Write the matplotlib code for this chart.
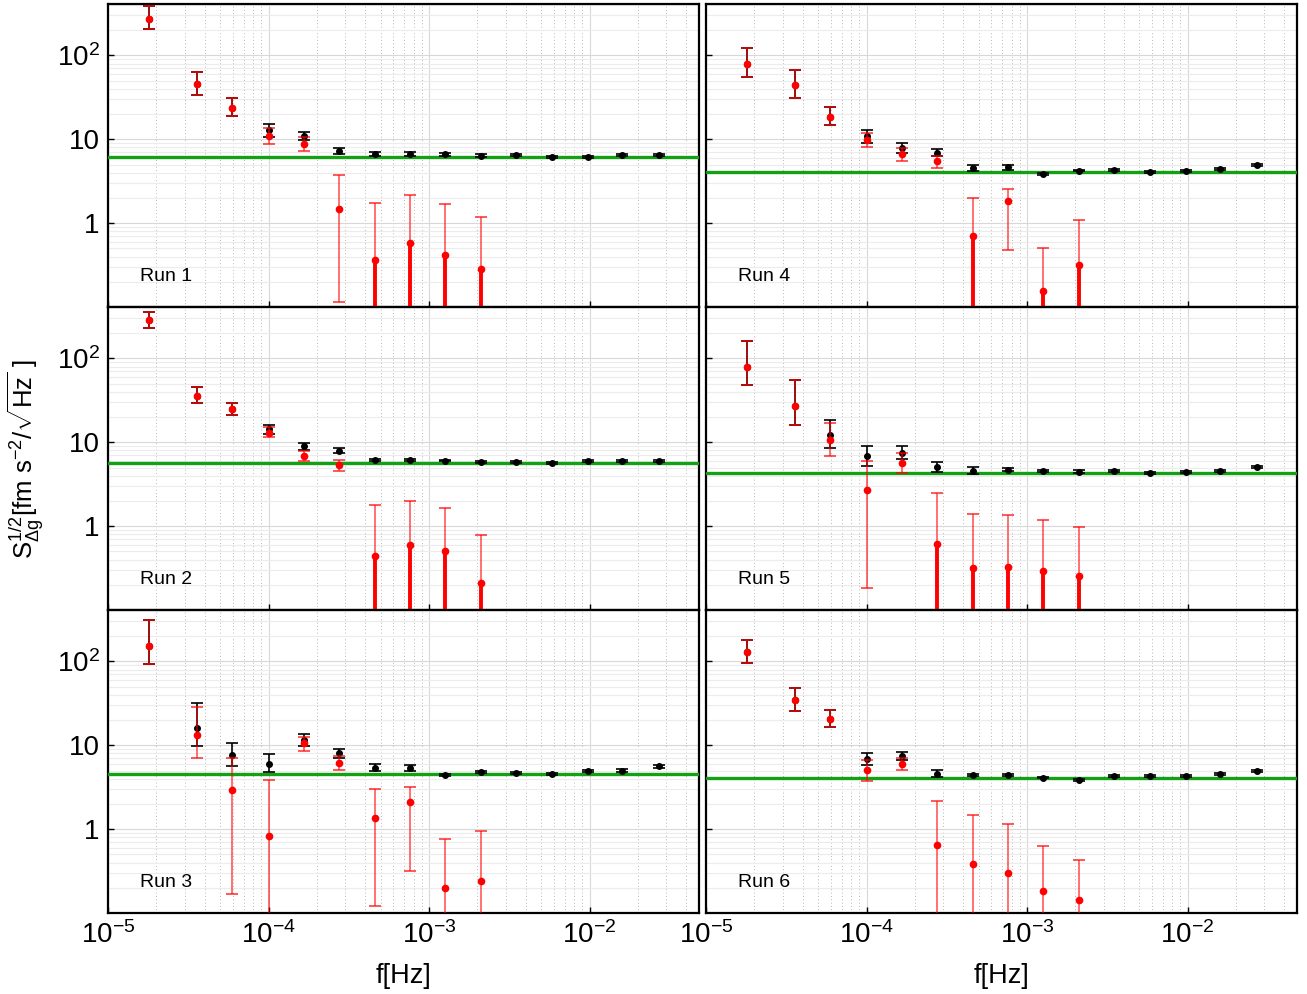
import numpy as np
import matplotlib
matplotlib.use("Agg")
import matplotlib.pyplot as plt
from matplotlib.ticker import FixedLocator, FixedFormatter, LogLocator, NullFormatter

plt.rcParams['font.family'] = ['Liberation Sans', 'DejaVu Sans']
plt.rcParams['mathtext.fontset'] = 'custom'
plt.rcParams['mathtext.rm'] = 'Liberation Sans'
plt.rcParams['mathtext.it'] = 'Liberation Sans:italic'
plt.rcParams['mathtext.bf'] = 'Liberation Sans:bold'
plt.rcParams['mathtext.sf'] = 'Liberation Sans'

# frequency bins (black: all bins, red: first ten)
freq = [1.8e-5, 3.6e-5, 5.9e-5, 1.0e-4, 1.66e-4, 2.76e-4, 4.6e-4, 7.6e-4,
        1.26e-3, 2.1e-3, 3.5e-3, 5.8e-3, 9.8e-3, 1.6e-2, 2.7e-2]
freq_red = freq[:10]

run_names = ["Run 1", "Run 2", "Run 3", "Run 4", "Run 5", "Run 6"]
noise_level = [6.15, 5.73, 4.6, 4.05, 4.31, 4.08]

# black series: value, upper and lower bound
blk1 = [275, 45, 23.8, 12.8, 10.9, 7.2, 6.6, 6.7, 6.6, 6.4, 6.45, 6.2, 6.2, 6.45, 6.45]
blk1_hi = [385, 63, 31, 15.2, 12.3, 7.9, 7.0, 7.0, 6.85, 6.6, 6.65, 6.4, 6.4, 6.65, 6.65]
blk1_lo = [204, 33.4, 18.8, 10.6, 9.7, 6.6, 6.25, 6.4, 6.35, 6.2, 6.25, 6.0, 6.0, 6.25, 6.25]
blk2 = [286, 35.6, 24.7, 14.3, 9.0, 7.9, 6.15, 6.15, 6.05, 5.78, 5.78, 5.6, 5.95, 5.95, 5.95]
blk2_hi = [355, 45, 29.6, 16.1, 9.9, 8.5, 6.4, 6.35, 6.2, 5.95, 5.92, 5.75, 6.1, 6.1, 6.1]
blk2_lo = [232, 29.1, 21, 12.7, 8.1, 7.4, 5.9, 5.95, 5.9, 5.62, 5.64, 5.45, 5.8, 5.8, 5.8]
blk3 = [152, 15.9, 7.6, 6.05, 11.5, 8.0, 5.37, 5.37, 4.4, 4.76, 4.65, 4.5, 4.9, 5.0, 5.6]
blk3_hi = [310, 31.9, 10.7, 7.9, 13.8, 9.0, 5.94, 5.8, 4.55, 4.9, 4.8, 4.62, 5.05, 5.15, 5.8]
blk3_lo = [92, 9.7, 5.73, 4.86, 9.8, 7.1, 4.9, 5.0, 4.27, 4.62, 4.5, 4.38, 4.75, 4.85, 5.4]
blk4 = [79.6, 44, 18.6, 10.8, 7.8, 6.9, 4.55, 4.64, 3.83, 4.24, 4.28, 4.05, 4.16, 4.4, 4.9]
blk4_hi = [122, 67.5, 24, 12.8, 9.0, 7.6, 4.9, 4.95, 3.95, 4.35, 4.4, 4.15, 4.27, 4.52, 5.05]
blk4_lo = [56, 31, 14.7, 9.1, 6.9, 6.4, 4.24, 4.35, 3.72, 4.13, 4.16, 3.95, 4.05, 4.28, 4.75]
blk5 = [80, 26.8, 12.1, 6.8, 7.46, 5.04, 4.6, 4.73, 4.55, 4.47, 4.5, 4.28, 4.4, 4.6, 5.04]
blk5_hi = [161, 54.7, 18.4, 9.0, 9.1, 5.78, 5.04, 4.95, 4.72, 4.62, 4.62, 4.4, 4.52, 4.72, 5.2]
blk5_lo = [48.6, 15.9, 8.55, 5.28, 6.3, 4.47, 4.13, 4.52, 4.38, 4.32, 4.38, 4.16, 4.28, 4.48, 4.88]
blk6 = [128, 34.3, 20.8, 6.87, 7.4, 4.6, 4.43, 4.4, 4.12, 3.83, 4.27, 4.27, 4.27, 4.5, 4.9]
blk6_hi = [179, 47.7, 26.3, 8.1, 8.4, 5.14, 4.6, 4.55, 4.22, 3.92, 4.38, 4.38, 4.38, 4.62, 5.02]
blk6_lo = [95.5, 25.6, 16.4, 5.8, 6.6, 4.24, 4.28, 4.26, 4.02, 3.74, 4.16, 4.16, 4.16, 4.38, 4.78]

# red series: value, upper and lower bound (lower bound < 0 -> negative)
red1 = [275, 45, 23.8, 10.9, 8.8, 1.47, 0.363, 0.58, 0.416, 0.283]
red1_hi = [385, 63, 31, 13.6, 10.5, 3.8, 1.75, 2.17, 1.70, 1.19]
red1_lo = [204, 33.4, 18.8, 8.8, 7.2, 0.116, -1, -1, -1, -1]
red2 = [286, 35.6, 24.7, 13.0, 6.8, 5.37, 0.443, 0.60, 0.504, 0.208]
red2_hi = [355, 45, 29.6, 15, 7.9, 6.1, 1.81, 1.97, 1.64, 0.775]
red2_lo = [232, 29.1, 21, 11.5, 5.9, 4.55, -1, -1, -1, -1]
red3 = [152, 13.4, 2.89, 0.83, 10.5, 6.2, 1.34, 2.08, 0.199, 0.243]
red3_hi = [310, 28.6, 7.0, 3.83, 12.6, 7.5, 2.97, 3.14, 0.76, 0.955]
red3_lo = [92, 7.0, 0.17, 0.05, 8.65, 5.1, 0.121, 0.313, 0.05, 0.05]
red4 = [79.6, 44, 18.6, 9.7, 6.6, 5.5, 0.706, 1.84, 0.156, 0.319]
red4_hi = [122, 67.5, 24, 11.9, 7.9, 6.4, 2.0, 2.56, 0.508, 1.09]
red4_lo = [56, 31, 14.7, 8.0, 5.5, 4.6, -1, 0.473, -1, -1]
red5 = [80, 26.8, 10.6, 2.7, 5.73, 0.616, 0.313, 0.322, 0.294, 0.254]
red5_hi = [161, 54.7, 17, 6.0, 7.46, 2.49, 1.39, 1.36, 1.18, 0.98]
red5_lo = [48.6, 15.9, 6.8, 0.181, 4.27, -1, -1, -1, -1, -1]
red6 = [128, 34.3, 20.8, 5.14, 6.05, 0.64, 0.38, 0.297, 0.181, 0.142]
red6_hi = [179, 47.7, 26.3, 6.7, 7.0, 2.14, 1.48, 1.15, 0.634, 0.431]
red6_lo = [95.5, 25.6, 16.4, 3.8, 5.08, 0.05, 0.05, 0.05, 0.05, 0.05]

black_sets = [(blk1, blk1_lo, blk1_hi), (blk2, blk2_lo, blk2_hi), (blk3, blk3_lo, blk3_hi),
              (blk4, blk4_lo, blk4_hi), (blk5, blk5_lo, blk5_hi), (blk6, blk6_lo, blk6_hi)]
red_sets = [(red1, red1_lo, red1_hi), (red2, red2_lo, red2_hi), (red3, red3_lo, red3_hi),
            (red4, red4_lo, red4_hi), (red5, red5_lo, red5_hi), (red6, red6_lo, red6_hi)]

YMIN, YMAX = 0.1, 410
XMIN, XMAX = 1e-5, 0.048

W, H = 1307, 994
fig = plt.figure(figsize=(W / 100, H / 100), dpi=100)

col_left = [108 / W, 706 / W]
ax_w = 591 / W
ax_h = 303 / H
row_bottom = [(H - 307) / H, (H - 610) / H, (H - 913) / H]


def draw_red(ax, f, v, lo, hi):
    for x, y, l, u in zip(f, v, lo, hi):
        bottom = l if l > 0 else YMIN * 0.5
        ax.vlines(x, bottom, u, color='red', alpha=0.6, lw=1.3, zorder=4)
        ax.plot([x], [u], marker='_', ms=8.5, mew=1.4, color='red', alpha=0.65, zorder=4)
        if l > 0:
            ax.plot([x], [l], marker='_', ms=8.5, mew=1.4, color='red', alpha=0.65, zorder=4)
        else:
            # negative lower bound: solid bar down through the axis
            ax.vlines(x, YMIN * 0.5, y, color='red', lw=2.8, zorder=4)
    ax.plot(f, v, 'o', color='red', ms=4.5, mec='red', zorder=5)


for k in range(6):
    col, row = divmod(k, 3)
    ax = fig.add_axes([col_left[col], row_bottom[row], ax_w, ax_h])
    ax.set_xscale('log')
    ax.set_yscale('log')
    ax.set_xlim(XMIN, XMAX)
    ax.set_ylim(YMIN, YMAX)

    ax.xaxis.set_minor_locator(LogLocator(base=10, subs=np.arange(2, 10), numticks=20))
    ax.yaxis.set_minor_locator(LogLocator(base=10, subs=np.arange(2, 10), numticks=20))
    ax.xaxis.set_minor_formatter(NullFormatter())
    ax.yaxis.set_minor_formatter(NullFormatter())
    ax.grid(which='major', color='#d8d8d8', lw=0.8)
    ax.grid(which='minor', color='#ececec', lw=0.8)
    ax.grid(which='minor', axis='x', color='#a0a0a0', lw=0.6, ls=(0, (1, 3)))
    ax.set_axisbelow(True)

    ax.yaxis.set_major_locator(FixedLocator([1, 10, 100]))
    ax.yaxis.set_major_formatter(FixedFormatter(['1', '10', r'$\mathdefault{10^{2}}$']))
    ax.tick_params(which='major', direction='in', length=4, width=1, labelsize=20,
                   top=False, right=False, pad=6)
    ax.tick_params(which='minor', length=0)
    if col == 1:
        ax.tick_params(axis='y', labelleft=False)
    if row < 2:
        ax.tick_params(axis='x', labelbottom=False)
    else:
        ax.set_xlabel('f[Hz]', fontsize=19.5, labelpad=10)

    for s in ax.spines.values():
        s.set_linewidth(1.6)
        s.set_color('black')

    ax.axhline(noise_level[k], color='#14a014', lw=2.4, zorder=3)

    bv, bl, bh = black_sets[k]
    bv = np.array(bv)
    ax.errorbar(freq, bv, yerr=[bv - np.array(bl), np.array(bh) - bv], fmt='o',
                color='black', ms=4, capsize=4, elinewidth=1.2, capthick=1.2, zorder=3.5)

    rv, rl, rh = red_sets[k]
    draw_red(ax, freq_red, rv, rl, rh)

    ax.text(0.054, 0.1, run_names[k], transform=ax.transAxes, fontsize=14,
            ha='left', va='center')

fig.text(0.02, 0.538, r'$\mathregular{S_{\Delta g}^{1/2}[fm\ s^{-2}/\sqrt{Hz}\ ]}$',
         rotation=90, ha='center', va='center', fontsize=18.5)

fig.savefig('out.png', dpi=100)
